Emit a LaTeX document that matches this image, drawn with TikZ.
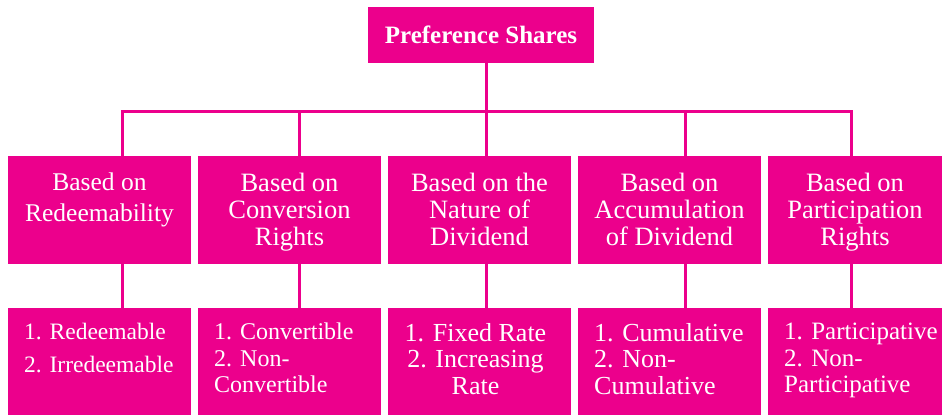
\documentclass[tikz,border=0pt]{standalone}
\usepackage{fontspec}
\setmainfont{Liberation Serif}
\usetikzlibrary{positioning}
\definecolor{shpink}{RGB}{236,0,140}
\newcommand{\fs}[1]{\fontsize{#1}{26.5}\selectfont}

\begin{document}
\begin{tikzpicture}[x=1pt, y=1pt, node distance={7pt},
  head/.style = {fill=shpink, inner sep=0pt, minimum width=226pt, minimum height=56pt, text=white, font=\fontsize{25}{28}\selectfont\bfseries},
  mbox/.style = {fill=shpink, inner sep=0pt, outer sep=0pt, minimum width=183pt, minimum height=108pt},
  lbox/.style = {fill=shpink, inner sep=0pt, outer sep=0pt, minimum width=183pt, minimum height=107pt},
  mtxt/.style = {text=white, inner sep=0pt, anchor=north, yshift=-17pt, align=center, font=\fontsize{26.5}{27}\selectfont},
  ltxt/.style = {text=white, inner sep=0pt, anchor=north west, xshift=16pt, yshift=-15pt, align=left},
  ctxt/.style = {text=white, inner sep=0pt, anchor=north, yshift=-15pt, align=center},
  link/.style = {draw=shpink, line width=3pt}]
\useasboundingbox (0,0) rectangle (942,-415);

\node[head] (root) at (481,-35) {Preference Shares};

% criteria row
\node[mbox] (m1) at (99.5,-210) {};
\node[mbox] (m2) [right=of m1] {};
\node[mbox] (m3) [right=of m2] {};
\node[mbox] (m4) [right=of m3] {};
\node[mbox, minimum width=174pt] (m5) [right=of m4] {};

% types row
\node[lbox] (b1) [below=44pt of m1] {};
\node[lbox] (b2) [below=44pt of m2] {};
\node[lbox] (b3) [below=44pt of m3] {};
\node[lbox] (b4) [below=44pt of m4] {};
\node[lbox, minimum width=174pt] (b5) [below=44pt of m5] {};

\node[mtxt, font=\fontsize{25.5}{27}\selectfont] (t1) at (m1.north) {Based on\\[4pt]Redeemability};
\node[mtxt] (t2) at (m2.north) {Based on\\Conversion\\Rights};
\node[mtxt] (t3) at (m3.north) {Based on the\\Nature of\\Dividend};
\node[mtxt] (t4) at (m4.north) {Based on\\Accumulation\\of Dividend};
\node[mtxt] (t5) at (m5.north) {Based on\\Participation\\Rights};

\node[ltxt, font=\fs{23.5}] (l1) at (b1.north west) {1. Redeemable\\[6pt]2. Irredeemable};
\node[ltxt, font=\fs{24}] (l2) at (b2.north west) {1. Convertible\\2. Non-\\Convertible};
\node[ctxt, font=\fs{26}, xshift=-4pt] (l3) at (b3.north) {1. Fixed Rate\\2. Increasing\\Rate};
\node[ltxt, font=\fs{26}] (l4) at (b4.north west) {1. Cumulative\\2. Non-\\Cumulative};
\node[ltxt, font=\fs{25}] (l5) at (b5.north west) {1. Participative\\2. Non-\\Participative};

\coordinate (bus) at (486,-111);
\coordinate (d1) at (122,-111);
\coordinate (d2) at (299,-111);
\coordinate (d4) at (685,-111);
\coordinate (d5) at (851,-111);

\draw[link] (root.south -| bus) -- (bus) -- (m3.north -| bus);
\draw[link] (m1.north -| d1) -- (d1) -- (d5) -- (m5.north -| d5);
\draw[link] (d2) -- (m2.north -| d2);
\draw[link] (d4) -- (m4.north -| d4);
\draw[link] (m1.south -| d1) -- (b1.north -| d1);
\draw[link] (m2.south -| d2) -- (b2.north -| d2);
\draw[link] (m3.south -| bus) -- (b3.north -| bus);
\draw[link] (m4.south -| d4) -- (b4.north -| d4);
\draw[link] (m5.south -| d5) -- (b5.north -| d5);
\end{tikzpicture}
\end{document}
